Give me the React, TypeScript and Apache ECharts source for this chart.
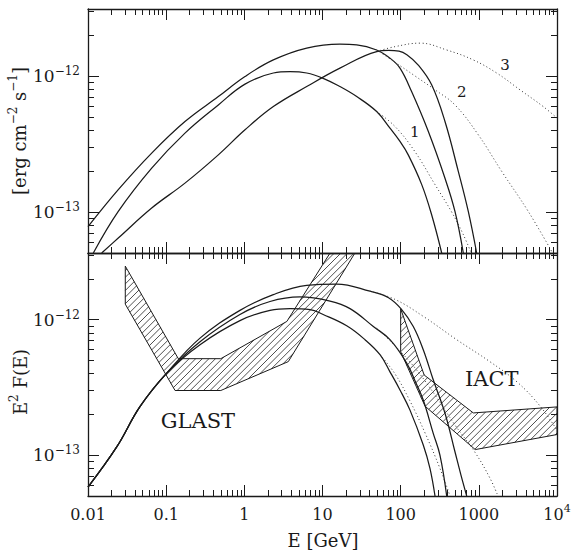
import React, { useEffect, useRef } from 'react';
import * as echarts from 'echarts';

const FONT = "'DejaVu Serif', 'Liberation Serif', serif";
const INK = '#1a1a1a';

// axis ranges
const X_MIN = 0.0099999;
const X_MAX = 10000.001;
const Y_MIN = 5e-14;
const Y_MAX = 3.1e-12;

// tick values
const X_MAJOR = [0.01, 0.1, 1, 10, 100, 1000, 10000];
const X_MINOR: number[] = [];
for (let k = -2; k <= 3; k++) for (let m = 2; m <= 9; m++) X_MINOR.push(parseFloat(`${m}e${k}`));
const Y_MAJOR = [1e-13, 1e-12];
const Y_MINOR = [6e-14, 7e-14, 8e-14, 9e-14, 2e-13, 3e-13, 4e-13, 5e-13, 6e-13, 7e-13, 8e-13, 9e-13, 2e-12, 3e-12];

// ---- upper panel: [E (GeV), E^2 F(E)]
const top1 = [[0.0117, 5e-14], [0.0244, 1.01e-13], [0.0653, 2.1e-13], [0.174, 3.8e-13], [0.465, 6.12e-13], [1.02, 8.7e-13], [2.35, 1.05e-12], [3.84, 1.075e-12], [6.28, 1.05e-12], [10.2, 9.6e-13], [16.7, 8.35e-13], [27.4, 7.05e-13], [49.3, 5.47e-13], [73, 4.13e-13], [98, 3.3e-13], [125, 2.63e-13], [186, 1.59e-13], [249, 9.55e-14], [335, 5e-14]];
const top2 = [[0.01, 7.8e-14], [0.0244, 1.46e-13], [0.0653, 2.71e-13], [0.174, 4.62e-13], [0.465, 7.05e-13], [1.02, 9.9e-13], [2.35, 1.31e-12], [6.28, 1.6e-12], [16.7, 1.71e-12], [27.4, 1.69e-12], [49.3, 1.55e-12], [73, 1.35e-12], [98, 1.14e-12], [138, 7.67e-13], [226, 3.9e-13], [369, 1.77e-13], [495, 1.01e-13], [633, 5e-14]];
const top3 = [[0.01496, 5e-14], [0.0244, 6.44e-14], [0.0653, 1.07e-13], [0.174, 1.63e-13], [0.465, 2.63e-13], [1.02, 4.02e-13], [2.35, 5.95e-13], [6.28, 8.35e-13], [16.7, 1.14e-12], [49.3, 1.51e-12], [70, 1.54e-12], [95, 1.52e-12], [120, 1.43e-12], [168, 1.2e-12], [249, 8.6e-13], [369, 4.62e-13], [546, 1.99e-13], [733, 1.01e-13], [938, 5e-14]];
const topDot1 = [[49.3, 5.47e-13], [84.6, 4.25e-13], [152, 2.78e-13], [275, 1.59e-13], [449, 1.0e-13], [620, 7e-14], [800, 5e-14]];
const topDot2 = [[49.3, 1.55e-12], [84.6, 1.26e-12], [152, 1.0e-12], [275, 7.9e-13], [495, 6.12e-13], [985, 3.69e-13], [1960, 1.99e-13], [4290, 1.01e-13], [8550, 5.14e-14]];
const topDot3 = [[49.3, 1.51e-12], [84.6, 1.64e-12], [177, 1.74e-12], [388, 1.55e-12], [849, 1.31e-12], [1690, 1.05e-12], [3360, 7.9e-13], [6670, 5.95e-13], [10000, 4.9e-13]];
const topLabels = [
  { name: '1', value: [152, 3.9e-13] },
  { name: '2', value: [604, 7.6e-13] },
  { name: '3', value: [2160, 1.2e-12] },
];

// ---- lower panel
const bot1 = [[0.01, 5.82e-14], [0.0233, 1.15e-13], [0.0462, 2.28e-13], [0.1017, 4.03e-13], [0.271, 6.53e-13], [0.879, 9.83e-13], [2.13, 1.17e-12], [3.84, 1.206e-12], [6.92, 1.186e-12], [10.2, 1.09e-12], [20.4, 9.0e-13], [35, 7.11e-13], [54.4, 5.51e-13], [73, 4.12e-13], [98, 3.03e-13], [131.6, 2.15e-13], [194.6, 1.19e-13], [237, 8.0e-14], [275, 5e-14]];
const bot2 = [[0.01, 5.82e-14], [0.0233, 1.15e-13], [0.0462, 2.28e-13], [0.1017, 4.03e-13], [0.271, 6.87e-13], [0.879, 1.09e-12], [2.13, 1.36e-12], [5.15, 1.47e-12], [12.5, 1.37e-12], [22.5, 1.206e-12], [44.7, 8.9e-13], [73, 7.11e-13], [119.4, 4.78e-13], [157, 3.41e-13], [194.6, 2.55e-13], [261, 1.45e-13], [318, 1.0e-13], [388, 5e-14]];
const bot3 = [[0.01, 5.82e-14], [0.0233, 1.15e-13], [0.0462, 2.28e-13], [0.1017, 4.03e-13], [0.271, 7.3e-13], [0.879, 1.17e-12], [2.35, 1.53e-12], [6.28, 1.79e-12], [15.2, 1.83e-12], [40.5, 1.62e-12], [70, 1.45e-12], [103, 1.186e-12], [145, 8.9e-13], [194.6, 6.0e-13], [261, 3.6e-13], [369, 2.04e-13], [495, 1.06e-13], [592, 7.1e-14], [700, 5e-14]];
const botDot1 = [[54.4, 5.51e-13], [84.6, 3.98e-13], [131.6, 2.51e-13], [205, 1.46e-13], [318, 8.0e-14], [428, 5e-14]];
const botDot2 = [[49.3, 8.68e-13], [84.6, 6.41e-13], [152, 4.41e-13], [275, 2.78e-13], [495, 1.67e-13], [893, 1.05e-13], [1390, 6.76e-14], [1758, 5e-14]];
const botDot3 = [[40.5, 1.62e-12], [84.6, 1.41e-12], [194.6, 1.057e-12], [521, 7.11e-13], [1390, 4.89e-13], [3080, 3.47e-13], [6050, 2.31e-13], [10000, 1.53e-13]];

// sensitivity bands (polygon outlines)
const glastUpper = [[0.03, 2.48e-12], [0.143, 5.15e-13], [0.5, 5.15e-13], [3.5, 9.7e-13], [12.5, 3.1e-12]];
const glastLower = [[26, 3.1e-12], [3.65, 4.9e-13], [0.5, 3.0e-13], [0.13, 3.0e-13], [0.03, 1.3e-12]];
const iactUpper = [[100, 1.2e-12], [200, 3.9e-13], [850, 2.05e-13], [10000, 2.27e-13]];
const iactLower = [[10000, 1.42e-13], [900, 1.1e-13], [205, 2.3e-13], [100, 5.8e-13]];
const botLabels = [
  { name: 'GLAST', value: [0.255, 1.79e-13] },
  { name: 'IACT', value: [1462, 3.65e-13] },
];

const RICH = {
  b: { fontFamily: FONT, fontSize: 16, lineHeight: 22, color: INK },
  s: { fontFamily: FONT, fontSize: 11, lineHeight: 12, verticalAlign: 'top', color: INK },
};
const RICH_Y = {
  b: { fontFamily: FONT, fontSize: 17, lineHeight: 22, color: INK },
  s: { fontFamily: FONT, fontSize: 12, lineHeight: 12, verticalAlign: 'top', color: INK },
};

const fmtX = (v: number) => {
  const e = Math.round(Math.log10(v));
  if (e >= 4) return `{b|10}{s|${e}}`;
  if (e < 0) return `{b|${v.toFixed(-e)}}`;
  return `{b|${Math.round(v)}}`;
};
const fmtY = (v: number) => {
  const e = Math.round(Math.log10(v));
  return `{b|10}{s|${e < 0 ? '\u2212' + -e : e}}`;
};

function xAxes(gi: number, showLabels: boolean) {
  const line = { onZero: false, show: false, lineStyle: { color: INK, width: 1.3 } };
  const tick = { show: true, inside: true, lineStyle: { color: INK, width: 1 } };
  const base = { type: 'log', gridIndex: gi, min: X_MIN, max: X_MAX, splitLine: { show: false }, silent: true };
  return [
    { ...base, position: 'bottom', axisLine: { ...line, show: true }, axisTick: { ...tick, length: 11, customValues: X_MAJOR },
      axisLabel: showLabels ? { show: true, customValues: X_MAJOR, margin: 7, formatter: fmtX, rich: RICH } : { show: false } },
    { ...base, position: 'bottom', axisLine: line, axisTick: { ...tick, length: 6, customValues: X_MINOR }, axisLabel: { show: false } },
    { ...base, position: 'top', axisLine: { ...line, show: true }, axisTick: { ...tick, length: 11, customValues: X_MAJOR }, axisLabel: { show: false } },
    { ...base, position: 'top', axisLine: line, axisTick: { ...tick, length: 6, customValues: X_MINOR }, axisLabel: { show: false } },
  ];
}
function yAxes(gi: number) {
  const line = { onZero: false, show: false, lineStyle: { color: INK, width: 1.3 } };
  const tick = { show: true, inside: true, lineStyle: { color: INK, width: 1 } };
  const base = { type: 'log', gridIndex: gi, min: Y_MIN, max: Y_MAX, splitLine: { show: false }, silent: true };
  return [
    { ...base, position: 'left', axisLine: { ...line, show: true }, axisTick: { ...tick, length: 11, customValues: Y_MAJOR },
      axisLabel: { show: true, customValues: Y_MAJOR, margin: 8, formatter: fmtY, rich: RICH_Y } },
    { ...base, position: 'left', axisLine: line, axisTick: { ...tick, length: 6, customValues: Y_MINOR }, axisLabel: { show: false } },
    { ...base, position: 'right', axisLine: { ...line, show: true }, axisTick: { ...tick, length: 11, customValues: Y_MAJOR }, axisLabel: { show: false } },
    { ...base, position: 'right', axisLine: line, axisTick: { ...tick, length: 6, customValues: Y_MINOR }, axisLabel: { show: false } },
  ];
}

const curve = (data: number[][], gi: number, dotted = false) => ({
  type: 'line', xAxisIndex: gi * 4, yAxisIndex: gi * 4, data, symbol: 'none', showSymbol: false,
  smooth: 0.4, silent: true, z: 3,
  lineStyle: dotted ? { color: '#333', width: 1, type: [1, 2.6] } : { color: INK, width: 1.25 },
});

const hatch = (poly: number[][], gi: number) => ({
  type: 'custom', xAxisIndex: gi * 4, yAxisIndex: gi * 4, clip: true, silent: true, z: 2,
  data: [poly[0]],
  renderItem: (_p: any, api: any) => {
    const pts = poly.map((p) => api.coord(p));
    const children: any[] = [];
    const sums = pts.map((p: number[]) => p[0] + p[1]);
    const cmin = Math.min(...sums);
    const cmax = Math.max(...sums);
    const step = 6.6;
    for (let c = Math.ceil(cmin / step) * step; c < cmax; c += step) {
      const hits: number[][] = [];
      for (let i = 0; i < pts.length; i++) {
        const a = pts[i];
        const b = pts[(i + 1) % pts.length];
        const fa = a[0] + a[1] - c;
        const fb = b[0] + b[1] - c;
        if ((fa < 0 && fb >= 0) || (fa >= 0 && fb < 0)) {
          const t = fa / (fa - fb);
          hits.push([a[0] + t * (b[0] - a[0]), a[1] + t * (b[1] - a[1])]);
        }
      }
      hits.sort((p, q) => p[0] - q[0]);
      for (let k = 0; k + 1 < hits.length; k += 2) {
        children.push({ type: 'line', shape: { x1: hits[k][0], y1: hits[k][1], x2: hits[k + 1][0], y2: hits[k + 1][1] },
          style: { stroke: '#222', lineWidth: 0.8 } });
      }
    }
    children.push({ type: 'polygon', shape: { points: pts }, style: { fill: 'none', stroke: INK, lineWidth: 1 } });
    return { type: 'group', children };
  },
});

const labels = (data: any[], gi: number, size: number) => ({
  type: 'scatter', xAxisIndex: gi * 4, yAxisIndex: gi * 4, data, symbolSize: 1, silent: true, z: 5,
  itemStyle: { color: 'rgba(0,0,0,0)' },
  label: { show: true, position: 'inside', formatter: '{b}', fontFamily: FONT, fontSize: size, color: INK,
    opacity: 1, textBorderWidth: 0 },
});

const titleText = (text: string, x: number, y: number, rot: number) => ({
  type: 'text', x, y, rotation: rot, silent: true,
  style: {
    text, fontFamily: FONT, fontSize: 18, lineHeight: 24, fill: INK,
    align: 'center', verticalAlign: 'middle', textAlign: 'center', textVerticalAlign: 'middle',
    rich: {
      s: { fontFamily: FONT, fontSize: 12, lineHeight: 13, verticalAlign: 'top', fill: INK, color: INK },
    },
  },
});

export default function App() {
  const ref = useRef<HTMLDivElement>(null);
  useEffect(() => {
    document.body.style.margin = '0';
    const chart = echarts.init(ref.current!, null, { renderer: 'svg' });
    chart.setOption({
      animation: false,
      backgroundColor: '#fff',
      grid: [
        { left: 88, top: 9, width: 469, height: 244, outerBoundsMode: 'none' },
        { left: 88, top: 253, width: 469, height: 243, outerBoundsMode: 'none' },
      ],
      xAxis: [...xAxes(0, false), ...xAxes(1, true)],
      yAxis: [...yAxes(0), ...yAxes(1)],
      series: [
        curve(top1, 0), curve(top2, 0), curve(top3, 0),
        curve(topDot1, 0, true), curve(topDot2, 0, true), curve(topDot3, 0, true),
        labels(topLabels, 0, 15),
        hatch([...glastUpper, ...glastLower], 1),
        hatch([...iactUpper, ...iactLower], 1),
        curve(bot1, 1), curve(bot2, 1), curve(bot3, 1),
        curve(botDot1, 1, true), curve(botDot2, 1, true), curve(botDot3, 1, true),
        labels(botLabels, 1, 21),
      ],
      graphic: [
        titleText('[erg cm{s|\u22122} s{s|\u22121}]', 19, 131, Math.PI / 2),
        titleText('E{s|2} F(E)', 20, 382, Math.PI / 2),
        titleText('E [GeV]', 323, 540, 0),
      ],
    });
    return () => chart.dispose();
  }, []);
  return <div ref={ref} style={{ width: 572, height: 550 }} />;
}
